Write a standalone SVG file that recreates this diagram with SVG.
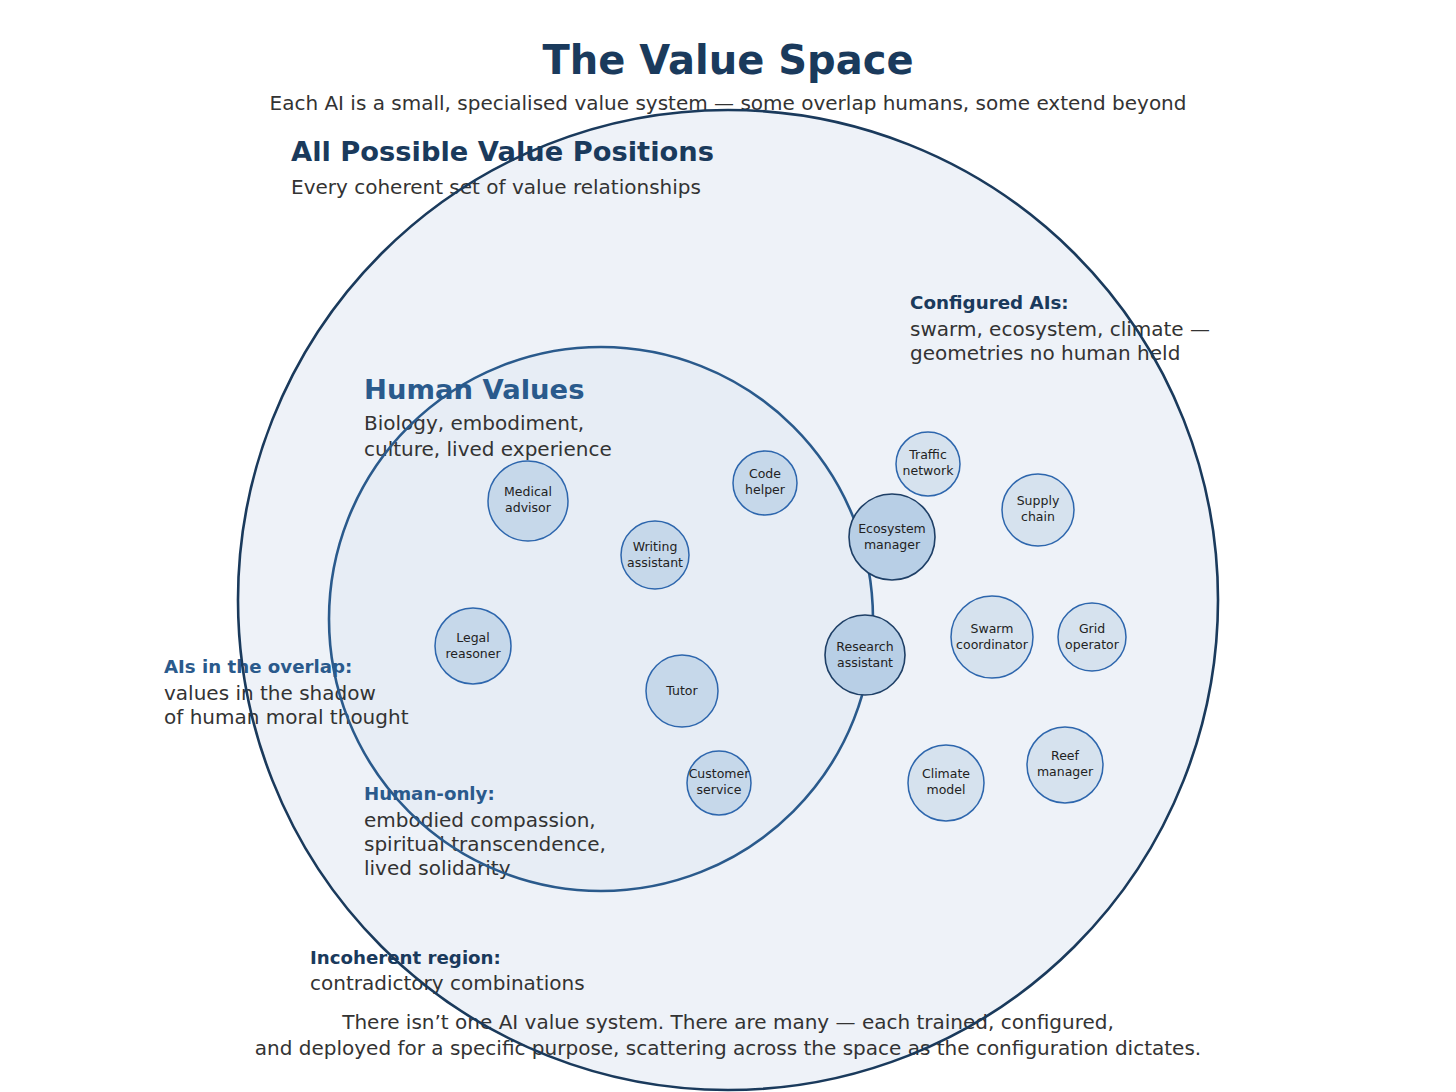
<svg xmlns="http://www.w3.org/2000/svg" width="1456" height="1092" viewBox="0 0 1456 1092">
<style>
text{font-family:"DejaVu Sans","Noto Sans",sans-serif}
.t{fill:#333}
.nl{font-size:12.5px;fill:#222;text-anchor:middle}
.in{fill:#c6d8ea;stroke:#2d66ad;stroke-width:1.5}
.ov{fill:#b8cfe6;stroke:#1e3f66;stroke-width:1.6}
.out{fill:#d6e2ee;stroke:#2d66ad;stroke-width:1.5}
.h1{font-weight:bold;fill:#1a3a5c}
.h2{font-weight:bold;fill:#2a5a8c}
</style>
<rect width="1456" height="1092" fill="#ffffff"/>
<g id="space-fills">
<circle cx="728" cy="600" r="490" fill="#eef2f8"/>
<circle cx="601" cy="619" r="272" fill="#e7edf5"/>
</g>
<g id="labels">
<text x="728" y="74" font-size="40" text-anchor="middle" class="h1">The Value Space</text>
<text x="728" y="110" font-size="20" text-anchor="middle" class="t">Each AI is a small, specialised value system — some overlap humans, some extend beyond</text>
<text x="291" y="161" font-size="27.3" class="h1">All Possible Value Positions</text>
<text x="291" y="194" font-size="20" class="t">Every coherent set of value relationships</text>
<text x="910" y="309" font-size="18.3" class="h1">Configured AIs:</text>
<text x="910" y="336" font-size="20" class="t">swarm, ecosystem, climate —</text>
<text x="910" y="360" font-size="20" class="t">geometries no human held</text>
<text x="364" y="399" font-size="27.4" class="h2">Human Values</text>
<text x="364" y="430" font-size="20" class="t">Biology, embodiment,</text>
<text x="364" y="456" font-size="20" class="t">culture, lived experience</text>
<text x="164" y="673" font-size="18.2" class="h2">AIs in the overlap:</text>
<text x="164" y="700" font-size="20" class="t">values in the shadow</text>
<text x="164" y="724" font-size="20" class="t">of human moral thought</text>
<text x="364" y="800" font-size="18.2" class="h2">Human-only:</text>
<text x="364" y="827" font-size="20" class="t">embodied compassion,</text>
<text x="364" y="851" font-size="20" class="t">spiritual transcendence,</text>
<text x="364" y="875" font-size="20" class="t">lived solidarity</text>
<text x="310" y="964" font-size="18.2" class="h1">Incoherent region:</text>
<text x="310" y="990" font-size="20" class="t">contradictory combinations</text>
<text x="728" y="1029" font-size="20" text-anchor="middle" class="t">There isn’t one AI value system. There are many — each trained, configured,</text>
<text x="728" y="1055" font-size="20" text-anchor="middle" class="t">and deployed for a specific purpose, scattering across the space as the configuration dictates.</text>
</g>
<g id="space-borders" fill="none">
<circle cx="728" cy="600" r="490" stroke="#1a3a5c" stroke-width="2.6"/>
<circle cx="601" cy="619" r="272" stroke="#2a5a8c" stroke-width="2.6"/>
</g>
<g id="connectors"></g>
<g id="node-medical"><circle class="in" cx="528" cy="501" r="40"/><text class="nl" x="528" y="496">Medical</text><text class="nl" x="528" y="512">advisor</text></g>
<g id="node-code"><circle class="in" cx="765" cy="483" r="32"/><text class="nl" x="765" y="478">Code</text><text class="nl" x="765" y="494">helper</text></g>
<g id="node-writing"><circle class="in" cx="655" cy="555" r="34"/><text class="nl" x="655" y="551">Writing</text><text class="nl" x="655" y="567">assistant</text></g>
<g id="node-legal"><circle class="in" cx="473" cy="646" r="38"/><text class="nl" x="473" y="642">Legal</text><text class="nl" x="473" y="658">reasoner</text></g>
<g id="node-tutor"><circle class="in" cx="682" cy="691" r="36"/><text class="nl" x="682" y="695">Tutor</text></g>
<g id="node-customer"><circle class="in" cx="719" cy="783" r="32"/><text class="nl" x="719" y="778">Customer</text><text class="nl" x="719" y="794">service</text></g>
<g id="node-research"><circle class="ov" cx="865" cy="655" r="40"/><text class="nl" x="865" y="651">Research</text><text class="nl" x="865" y="667">assistant</text></g>
<g id="node-ecosystem"><circle class="ov" cx="892" cy="537" r="43"/><text class="nl" x="892" y="533">Ecosystem</text><text class="nl" x="892" y="549">manager</text></g>
<g id="node-traffic"><circle class="out" cx="928" cy="464" r="32"/><text class="nl" x="928" y="459">Traffic</text><text class="nl" x="928" y="475">network</text></g>
<g id="node-supply"><circle class="out" cx="1038" cy="510" r="36"/><text class="nl" x="1038" y="505">Supply</text><text class="nl" x="1038" y="521">chain</text></g>
<g id="node-swarm"><circle class="out" cx="992" cy="637" r="41"/><text class="nl" x="992" y="633">Swarm</text><text class="nl" x="992" y="649">coordinator</text></g>
<g id="node-grid"><circle class="out" cx="1092" cy="637" r="34"/><text class="nl" x="1092" y="633">Grid</text><text class="nl" x="1092" y="649">operator</text></g>
<g id="node-climate"><circle class="out" cx="946" cy="783" r="38"/><text class="nl" x="946" y="778">Climate</text><text class="nl" x="946" y="794">model</text></g>
<g id="node-reef"><circle class="out" cx="1065" cy="765" r="38"/><text class="nl" x="1065" y="760">Reef</text><text class="nl" x="1065" y="776">manager</text></g>
</svg>
